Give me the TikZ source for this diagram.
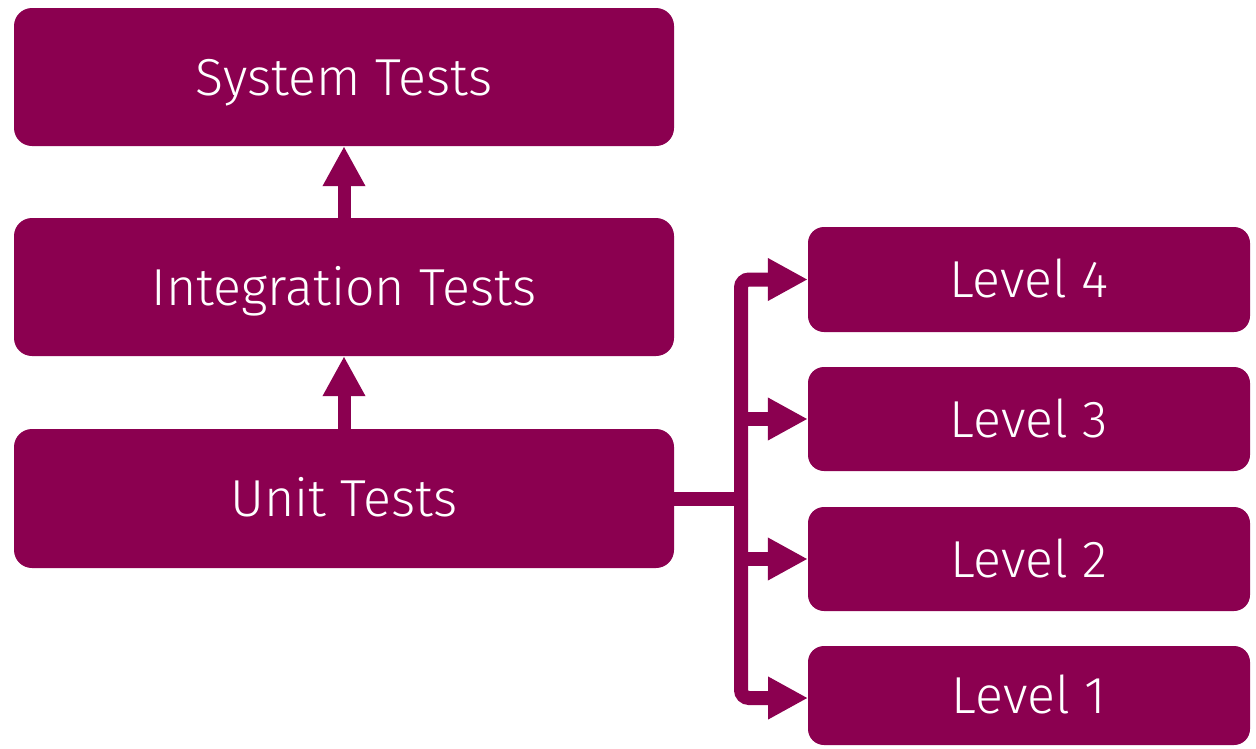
\documentclass[tikz,border=0pt]{standalone}
\usepackage{fontspec}
\setmainfont{Fira Sans Light}
\usetikzlibrary{arrows.meta}
\definecolor{berry}{HTML}{8B0050}
\begin{document}
\begin{tikzpicture}[x=1pt,y=-1pt,
  boxtext/.style={text=white,font=\fontsize{52}{60}\selectfont,inner sep=0pt,text height=36pt,text depth=0pt},
  bigbox/.style={boxtext,fill=berry,rounded corners=18pt,minimum width=660pt},
  lvlbox/.style={boxtext,fill=berry,rounded corners=16pt,minimum width=442pt},
  uparrow/.style={draw=berry,line width=13pt,-{Triangle[length=40pt,width=40pt]}},
  conn/.style={draw=berry,line width=14pt},
  connarrow/.style={conn,-{Triangle[length=40pt,width=40pt]}}]
\useasboundingbox (0,0) rectangle (1256,748);
\node[bigbox,minimum height=138pt] (sys) at (344,77) {System Tests};
\node[bigbox,minimum height=138pt] (int) at (344,287) {Integration Tests};
\node[bigbox,minimum height=139pt] (unit) at (344,498.5) {Unit Tests};
\node[lvlbox,minimum height=105pt] (l4) at (1029,279.5) {Level 4};
\node[lvlbox,minimum height=104pt] (l3) at (1029,419) {Level 3};
\node[lvlbox,minimum height=104pt] (l2) at (1029,559) {Level 2};
\node[lvlbox,minimum height=99pt] (l1) at (1029,695.5) {Level 1};
\coordinate (j) at (741,499);
\coordinate (t1) at (808,698);
\draw[uparrow] (int.north) -- (sys.south);
\draw[uparrow] (unit.north) -- (int.south);
\draw[conn] (unit.east |- j) -- (j);
\draw[connarrow,rounded corners=8pt] (j) |- (l4.west);
\draw[connarrow,rounded corners=8pt] (j) |- (t1);
\draw[connarrow] (j |- l3.west) -- (l3.west);
\draw[connarrow] (j |- l2.west) -- (l2.west);
\end{tikzpicture}
\end{document}
